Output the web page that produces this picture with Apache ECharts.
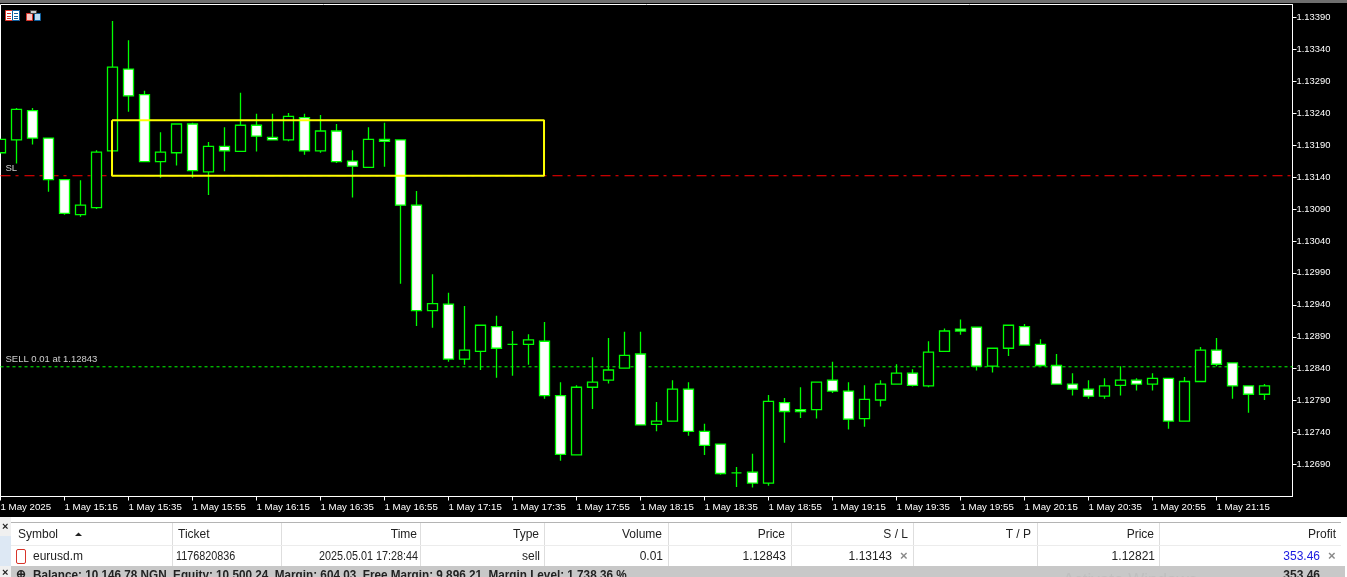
<!DOCTYPE html>
<html>
<head>
<meta charset="utf-8">
<style>html,body{margin:0;padding:0;background:#000;overflow:hidden}#c{width:1347px;height:577px}</style>
<script src="https://cdn.jsdelivr.net/npm/echarts@6/dist/echarts.min.js"></script>
</head>
<body>
<div id="c"></div>
<script>
const opens = [1.13178,1.13198,1.13244,1.13201,1.13136,1.13081,1.13092,1.13181,1.13309,1.13269,1.13164,1.13178,1.13223,1.13148,1.13188,1.13180,1.13221,1.13202,1.13198,1.13233,1.13181,1.13212,1.13165,1.13155,1.13199,1.13198,1.13096,1.12931,1.12941,1.12855,1.12867,1.12906,1.12878,1.12878,1.12883,1.12798,1.12705,1.12811,1.12822,1.12841,1.12863,1.12753,1.12758,1.12808,1.12742,1.12722,1.12677,1.12678,1.12661,1.12787,1.12776,1.12776,1.12822,1.12805,1.12762,1.12791,1.12816,1.12833,1.12813,1.12867,1.12902,1.12905,1.12844,1.12872,1.12906,1.12878,1.12845,1.12816,1.12808,1.12797,1.12814,1.12822,1.12816,1.12825,1.12758,1.12820,1.12869,1.12849,1.12813,1.12800];
const closes = [1.13199,1.13246,1.13201,1.13136,1.13083,1.13096,1.13179,1.13312,1.13267,1.13164,1.13179,1.13223,1.13150,1.13188,1.13181,1.13221,1.13204,1.13198,1.13235,1.13181,1.13212,1.13164,1.13157,1.13199,1.13196,1.13096,1.12931,1.12942,1.12855,1.12869,1.12908,1.12872,1.12878,1.12885,1.12798,1.12706,1.12811,1.12819,1.12838,1.12861,1.12752,1.12758,1.12808,1.12742,1.12720,1.12676,1.12677,1.12661,1.12789,1.12773,1.12773,1.12819,1.12805,1.12761,1.12792,1.12816,1.12833,1.12814,1.12866,1.12899,1.12899,1.12844,1.12872,1.12908,1.12877,1.12845,1.12816,1.12808,1.12797,1.12813,1.12822,1.12816,1.12825,1.12758,1.12820,1.12869,1.12847,1.12813,1.12800,1.12813];
const lows = [1.13178,1.13161,1.13191,1.13117,1.13081,1.13078,1.13090,1.13181,1.13242,1.13164,1.13139,1.13158,1.13139,1.13112,1.13149,1.13180,1.13180,1.13198,1.13196,1.13175,1.13178,1.13162,1.13108,1.13155,1.13156,1.12973,1.12907,1.12904,1.12851,1.12846,1.12838,1.12826,1.12829,1.12846,1.12793,1.12696,1.12705,1.12777,1.12817,1.12841,1.12752,1.12742,1.12758,1.12735,1.12705,1.12674,1.12655,1.12654,1.12657,1.12724,1.12763,1.12762,1.12802,1.12745,1.12749,1.12781,1.12816,1.12812,1.12811,1.12866,1.12893,1.12837,1.12834,1.12860,1.12877,1.12844,1.12816,1.12798,1.12793,1.12793,1.12798,1.12806,1.12806,1.12746,1.12758,1.12820,1.12844,1.12793,1.12771,1.12791];
const highs = [1.13199,1.13248,1.13248,1.13201,1.13136,1.13135,1.13182,1.13384,1.13354,1.13275,1.13210,1.13223,1.13225,1.13195,1.13218,1.13272,1.13239,1.13239,1.13240,1.13239,1.13237,1.13223,1.13182,1.13218,1.13225,1.13198,1.13118,1.12988,1.12959,1.12938,1.12908,1.12923,1.12899,1.12894,1.12913,1.12819,1.12814,1.12858,1.12888,1.12898,1.12898,1.12788,1.12822,1.12819,1.12754,1.12722,1.12686,1.12707,1.12799,1.12794,1.12811,1.12820,1.12851,1.12819,1.12814,1.12822,1.12847,1.12839,1.12883,1.12903,1.12917,1.12905,1.12872,1.12908,1.12910,1.12886,1.12863,1.12833,1.12822,1.12825,1.12844,1.12825,1.12833,1.12825,1.12827,1.12874,1.12888,1.12849,1.12813,1.12816];
const priceTicks = [1.1269,1.1274,1.1279,1.1284,1.1289,1.1294,1.1299,1.1304,1.1309,1.1314,1.1319,1.1324,1.1329,1.1334,1.1339];
const timeTickBars = [0,4,8,12,16,20,24,28,32,36,40,44,48,52,56,60,64,68,72,76];
const timeTickLabels = ['1 May 2025','1 May 15:15','1 May 15:35','1 May 15:55','1 May 16:15','1 May 16:35','1 May 16:55','1 May 17:15','1 May 17:35','1 May 17:55','1 May 18:15','1 May 18:35','1 May 18:55','1 May 19:15','1 May 19:35','1 May 19:55','1 May 20:15','1 May 20:35','1 May 20:55','1 May 21:15'];
const stopLoss = 1.13142;
const entryPrice = 1.12843;
const boxBars = [6.97, 33.97];
const boxPrices = [1.13229, 1.13142];

const headers = ['Symbol','Ticket','Time','Type','Volume','Price','S / L','T / P','Price','Profit'];
const headerX = [18,178,417,539,662,785,908,1031,1154,1336];
const headerAlign = ['left','left','right','right','right','right','right','right','right','right'];
const rowCells = ['eurusd.m','1176820836','2025.05.01 17:28:44','sell','0.01','1.12843','1.13143','','1.12821','353.46'];
const rowX = [33,176,418,540,663,786,892,1030,1155,1320];
const colLines = [172,281,420,544,668,791,913,1037,1159];
const statusText = 'Balance: 10 146.78 NGN  Equity: 10 500.24  Margin: 604.03  Free Margin: 9 896.21  Margin Level: 1 738.36 %';
const statusProfit = '353.46';

const FONT = '"Liberation Sans", sans-serif';
const g = [];
function rect(x,y,w,h,fill,stroke){g.push({type:'rect',silent:true,shape:{x,y,width:w,height:h},style:{fill:fill||'none',stroke:stroke||null,lineWidth:1},z:20});}
function text(x,y,s,o){o=o||{};g.push({type:'text',silent:true,x,y,scaleX:o.sx||1,style:{text:s,fill:o.fill||'#222',font:(o.bold?'bold ':'')+(o.size||12)+'px '+FONT,textAlign:o.align||'left',textVerticalAlign:'middle'},z:21});}

rect(0,0,1347,3,'#6f6f6f');
rect(5.5,10.5,14,10,'#ffffff','#d8342a'); rect(12.5,10.5,7,10,'#ffffff','#0f5f9e');
rect(7,13,4,1,'#d8342a'); rect(7,16,4,1,'#d8342a'); rect(7,18,4,1,'#d8342a');
rect(14,13,4,1,'#0f5f9e'); rect(14,16,4,1,'#0f5f9e'); rect(14,18,4,1,'#0f5f9e');
rect(26.5,13.5,6,7,'#f9c9c4','#d8342a'); rect(34.5,13.5,6,7,'#bcdcf2','#0f5f9e'); rect(30.5,10.5,6,3,'#cccccc','#444444');

rect(0,517,1347,60,'#ffffff');
rect(0,517,11,49,'#f0f0f0'); rect(0,536,11,30,'#dde8f4');
text(2,527,'×',{size:11,bold:true,fill:'#222'});
rect(11,522,1330,1,'#b4b4b4');
colLines.forEach(x=>{rect(x,523,1,43,'#dedede');});
rect(11,545,1330,1,'#ececec');
headers.forEach((h,i)=>text(headerX[i],534.5,h,{align:headerAlign[i]}));
g.push({type:'polygon',silent:true,shape:{points:[[75,536],[82,536],[78.5,532.5]]},style:{fill:'#222'},z:21});
rowCells.forEach((c,i)=>{ if(c) text(rowX[i],556.5,c,{align:i<2?'left':'right',fill:i===9?'#1a1ae0':'#222',sx:(i===1||i===2)?0.9:1}); });
g.push({type:'rect',silent:true,shape:{x:16.5,y:549.5,width:9,height:14,r:1.5},style:{fill:'#fff',stroke:'#d8342a',lineWidth:1},z:21});
rect(19,553,3,1,'#d8342a'); rect(19,557,3,1,'#d8342a');
text(900,556.5,'×',{size:13,bold:true,fill:'#8a8a8a'});
text(1328,556.5,'×',{size:13,bold:true,fill:'#8a8a8a'});
rect(0,566,1347,11,'#c8c8c8');
rect(0,566,11,11,'#f0f0f0');
text(2,573,'×',{size:11,bold:true});
text(16,575,'⊕',{size:12,bold:true});
text(33,575.5,statusText,{bold:true,sx:0.977});
text(1320,575.5,statusProfit,{bold:true,align:'right'});
text(1063,580,'Activate Windows',{size:17,fill:'#bfbfbf'});
rect(1345,517,2,60,'#ffffff');

const levelLabel = {show:true,position:'right',distance:0,offset:[0,-7],color:'#fff',fontSize:9.5,fontFamily:'Liberation Sans'};
const chart = echarts.init(document.getElementById('c'));
chart.setOption({
  animation:false,
  backgroundColor:'#000',
  grid:{left:0.5,top:4.5,width:1292,height:492,show:true,borderColor:'#fff',borderWidth:1,backgroundColor:'#000',outerBoundsMode:'none',containLabel:false},
  xAxis:{type:'value',min:0,max:80.75,
    axisLine:{show:true,onZero:false,lineStyle:{color:'#fff',width:1}},
    axisTick:{show:true,length:4,customValues:timeTickBars,lineStyle:{color:'#fff',width:1}},
    splitLine:{show:false},
    axisLabel:{customValues:timeTickBars,margin:6,align:'left',color:'#fff',fontSize:9.7,fontFamily:'Liberation Sans',
      formatter:v=>timeTickLabels[timeTickBars.indexOf(Math.round(v))]||''}},
  yAxis:{type:'value',position:'right',min:1.1264,max:1.1341,scale:true,
    axisLine:{show:true,onZero:false,lineStyle:{color:'#fff',width:1}},
    axisTick:{show:true,length:4,customValues:priceTicks,lineStyle:{color:'#fff',width:1}},
    splitLine:{show:false},
    axisLabel:{customValues:priceTicks,margin:4,color:'#fff',fontSize:9.4,fontFamily:'Liberation Sans',
      formatter:v=>v.toFixed(5)}},
  series:[
    {type:'line',z:1,showSymbol:false,silent:true,clip:false,
      data:[[0,stopLoss],[80.75,stopLoss]],
      lineStyle:{color:'#ff0000',width:1,type:[10,5,3,6]}},
    {type:'line',z:1,showSymbol:false,silent:true,clip:false,
      data:[[0,entryPrice],[80.75,entryPrice]],
      lineStyle:{color:'#00ff00',width:1,type:[3,3]}},
    {type:'scatter',z:3,silent:true,symbolSize:1,itemStyle:{color:'rgba(0,0,0,0)'},
      data:[{value:[0.28,stopLoss],label:Object.assign({formatter:'SL'},levelLabel)},
            {value:[0.28,entryPrice],label:Object.assign({formatter:'SELL 0.01 at 1.12843'},levelLabel)}]},
    {type:'candlestick',z:2,clip:false,barWidth:10,
      data:opens.map((o,i)=>[i,o,closes[i],lows[i],highs[i]]),
      itemStyle:{color:'#000',color0:'#fff',borderColor:'#00ff00',borderColor0:'#00ff00',borderColorDoji:'#00ff00',borderWidth:1.3}},
    {type:'line',z:5,showSymbol:false,silent:true,clip:false,
      data:[[boxBars[0],boxPrices[0]],[boxBars[1],boxPrices[0]],[boxBars[1],boxPrices[1]],[boxBars[0],boxPrices[1]],[boxBars[0],boxPrices[0]]],
      lineStyle:{color:'#ffff00',width:2}}
  ],
  graphic:g
});
</script>
</body>
</html>
